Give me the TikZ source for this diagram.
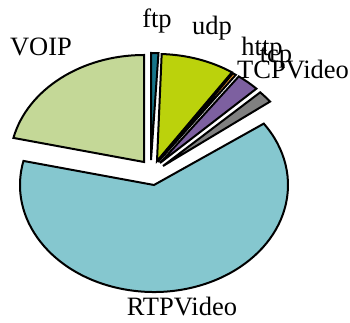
\documentclass[tikz,border=0pt]{standalone}
\usepackage{fontspec}
\setmainfont{Liberation Serif}
\definecolor{cvoip}{HTML}{C4D897}
\definecolor{crtp}{HTML}{85C7CF}
\definecolor{cudp}{HTML}{BBD20C}
\definecolor{cftp}{HTML}{17758A}
\definecolor{chttp}{HTML}{F29A2E}
\definecolor{ctcp}{HTML}{7D60A0}
\definecolor{ctcpv}{HTML}{808080}
\tikzset{
  slice/.style={draw=black, line width=2pt, line join=miter},
  lbl/.style={inner sep=0pt, font=\fontsize{26.5}{31}\selectfont, anchor=base},
}
\newcommand{\pieslice}[5]{%
  \filldraw[slice, fill=#5] (#1,#2) -- +(#3:134 and 107)
    arc[start angle=#3, end angle=#4, x radius=134pt, y radius=107pt] -- cycle;}
\begin{document}
\begin{tikzpicture}[x=1pt,y=1pt]
\useasboundingbox (0,0) rectangle (350,323);
\pieslice{154}{138}{167}{395}{crtp}
\pieslice{144}{161}{90}{167}{cvoip}
\pieslice{151}{163}{86.8}{90}{cftp}
\pieslice{157}{162}{56}{88}{cudp}
\pieslice{158}{161}{54.5}{56}{chttp}
\pieslice{160}{160}{44}{54}{ctcp}
\pieslice{163}{157}{37}{43.5}{ctcpv}
\node[lbl] (lftp) at (157,295) {ftp};
\node[lbl] (ludp) at (212,288) {udp};
\node[lbl] (lhttp) at (262,267) {http};
\node[lbl] (ltcp) at (276,260) {tcp};
\node[lbl, anchor=base west] (ltcpv) at (237,244) {TCPVideo};
\node[lbl] (lvoip) at (41,267) {VOIP};
\node[lbl] (lrtp) at (182,7) {RTPVideo};
\end{tikzpicture}
\end{document}
